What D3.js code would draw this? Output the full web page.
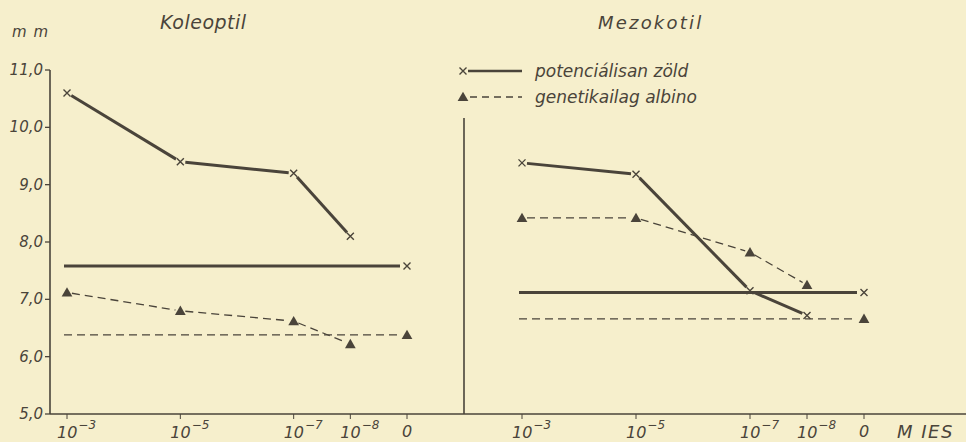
<!DOCTYPE html>
<html><head><meta charset="utf-8">
<script src="https://cdn.jsdelivr.net/npm/d3@7"></script>
<style>
html,body{margin:0;padding:0;background:#f6efcc;}
svg{display:block;}
text{font-family:"DejaVu Sans",sans-serif;font-style:italic;fill:#4a443a;}
</style></head>
<body>
<svg id="c" width="966" height="442"></svg>
<script>
// ---- data ----
const categories = ["10^-3", "10^-5", "10^-7", "10^-8", "0"];
const exponents = [3, 5, 7, 8, 9];           // log concentration (control plotted one step after 10^-8)
const panels = ["Koleoptil", "Mezokotil"];
const seriesNames = ["potenciálisan zöld", "genetikailag albino"];
const koleoptilGreen  = [10.6, 9.4, 9.2, 8.1, 7.58];
const koleoptilAlbino = [7.12, 6.8, 6.62, 6.22, 6.38];
const mezokotilGreen  = [9.38, 9.18, 7.15, 6.72, 7.12];
const mezokotilAlbino = [8.42, 8.42, 7.82, 7.25, 6.66];
const yTicks = [5, 6, 7, 8, 9, 10, 11];

const ink = "#4a443a";
const svg = d3.select("#c");
const W = 966, H = 442;
svg.append("rect").attr("width", W).attr("height", H).attr("fill", "#f6efcc");

const y = d3.scaleLinear().domain([5, 11]).range([414, 70]);
const xL = d3.scaleLinear().domain([3, 9]).range([67, 407]);
const xR = d3.scaleLinear().domain([3, 9]).range([522, 864]);

// axes
svg.append("line").attr("x1", 50).attr("x2", W).attr("y1", y(5)).attr("y2", y(5))
  .attr("stroke", ink).attr("stroke-width", 1.6);
svg.append("line").attr("x1", 50).attr("x2", 50).attr("y1", y(11)).attr("y2", y(5))
  .attr("stroke", ink).attr("stroke-width", 1.6);
svg.append("line").attr("x1", 464).attr("x2", 464).attr("y1", 118).attr("y2", y(5))
  .attr("stroke", ink).attr("stroke-width", 1.6);

// y ticks
yTicks.forEach(v => {
  svg.append("line").attr("x1", 45).attr("x2", 50).attr("y1", y(v)).attr("y2", y(v))
    .attr("stroke", ink).attr("stroke-width", 1.3);
  svg.append("text").attr("x", 43).attr("y", y(v) + 5).attr("text-anchor", "end")
    .attr("font-size", 15).text(v.toFixed(1).replace(".", ","));
});

// x ticks and labels
function xAxisLabels(x) {
  categories.forEach((c, i) => {
    const px = x(exponents[i]);
    svg.append("line").attr("x1", px).attr("x2", px).attr("y1", y(5)).attr("y2", y(5) + 5)
      .attr("stroke", ink).attr("stroke-width", 1);
    if (c === "0") {
      svg.append("text").attr("x", px).attr("y", 437).attr("text-anchor", "middle")
        .attr("font-size", 16).text("0");
    } else {
      const exp = c.split("^")[1];
      const t = svg.append("text").attr("x", px - 10).attr("y", 438).attr("font-size", 16);
      t.append("tspan").text("10");
      t.append("tspan").attr("dy", -9).attr("dx", 1).attr("font-size", 12)
        .text(exp.replace("-", "−"));
    }
  });
}
xAxisLabels(xL);
xAxisLabels(xR);
svg.append("text").attr("x", 897).attr("y", 438).attr("font-size", 18)
  .attr("letter-spacing", 1.5).text("M  IES");

// titles
svg.append("text").attr("x", 12).attr("y", 37).attr("font-size", 15).attr("letter-spacing", 1).text("m m");
svg.append("text").attr("x", 160).attr("y", 29).attr("font-size", 19).attr("letter-spacing", 0.5).text(panels[0]);
svg.append("text").attr("x", 598).attr("y", 29).attr("font-size", 18).attr("letter-spacing", 2.2).text(panels[1]);

// helpers
function seg(x1, y1, x2, y2, g1, g2, style) {
  const dx = x2 - x1, dy = y2 - y1, L = Math.hypot(dx, dy);
  const ux = dx / L, uy = dy / L;
  const l = svg.append("line")
    .attr("x1", x1 + ux * g1).attr("y1", y1 + uy * g1)
    .attr("x2", x2 - ux * g2).attr("y2", y2 - uy * g2)
    .attr("stroke", ink);
  if (style === "solid") l.attr("stroke-width", 3).attr("stroke-linecap", "butt");
  else l.attr("stroke-width", 1.3).attr("stroke-dasharray", "8,5");
  return l;
}
function xMark(px, py) {
  const s = 3.5;
  svg.append("path").attr("d", `M${px - s},${py - s}L${px + s},${py + s}M${px - s},${py + s}L${px + s},${py - s}`)
    .attr("stroke", ink).attr("stroke-width", 1.4).attr("fill", "none");
}
function triMark(px, py) {
  svg.append("path").attr("d", d3.symbol().type(d3.symbolTriangle).size(50)())
    .attr("transform", `translate(${px},${py})`).attr("fill", ink);
}

function drawSeries(x, vals, style) {
  const pts = vals.map((v, i) => [x(exponents[i]), y(v)]);
  // treated concentrations
  for (let i = 0; i < 3; i++) {
    seg(pts[i][0], pts[i][1], pts[i + 1][0], pts[i + 1][1], 5, 5, style);
  }
  // control reference line
  const ctrl = pts[4];
  seg(pts[0][0] - 3, ctrl[1], ctrl[0], ctrl[1], 0, 7, style);
  pts.forEach(p => style === "solid" ? xMark(p[0], p[1]) : triMark(p[0], p[1] + 1));
}
drawSeries(xL, koleoptilGreen, "solid");
drawSeries(xL, koleoptilAlbino, "dashed");
drawSeries(xR, mezokotilGreen, "solid");
drawSeries(xR, mezokotilAlbino, "dashed");

// legend
xMark(463, 71);
svg.append("line").attr("x1", 468).attr("x2", 522).attr("y1", 71).attr("y2", 71)
  .attr("stroke", ink).attr("stroke-width", 2.6);
svg.append("text").attr("x", 535).attr("y", 77).attr("font-size", 17).text(seriesNames[0]);
triMark(463, 98);
svg.append("line").attr("x1", 470).attr("x2", 522).attr("y1", 97).attr("y2", 97)
  .attr("stroke", ink).attr("stroke-width", 1.3).attr("stroke-dasharray", "7,5");
svg.append("text").attr("x", 535).attr("y", 103).attr("font-size", 17).text(seriesNames[1]);
</script>
</body></html>
